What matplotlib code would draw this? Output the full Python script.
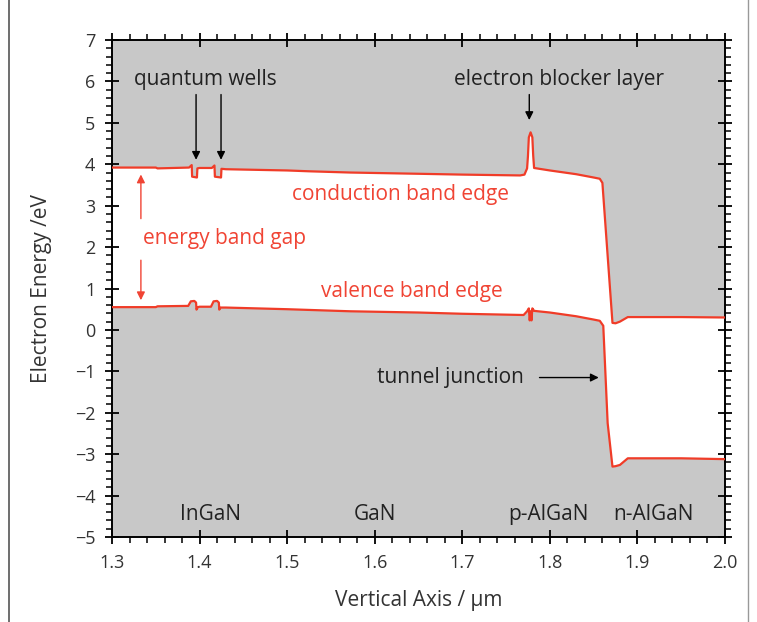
import matplotlib
matplotlib.use("Agg")
import matplotlib.pyplot as plt
import numpy as np
from matplotlib.lines import Line2D
from matplotlib.ticker import MultipleLocator

plt.rcParams['font.family'] = ['Open Sans', 'DejaVu Sans']

# Conduction band edge
cb_x = [1.300, 1.350, 1.352, 1.388, 1.391, 1.3915, 1.397, 1.3975, 1.400, 1.414,
        1.417, 1.4175, 1.4245, 1.425, 1.430, 1.500, 1.525, 1.572, 1.650, 1.700,
        1.766, 1.771, 1.774, 1.775, 1.776, 1.778, 1.780, 1.781, 1.782, 1.800,
        1.830, 1.850, 1.857, 1.860, 1.8715, 1.875, 1.880, 1.889, 1.950, 2.000]
cb_E = [3.92, 3.92, 3.90, 3.92, 3.98, 3.70, 3.68, 3.90, 3.91, 3.91,
        3.97, 3.70, 3.68, 3.89, 3.88, 3.85, 3.83, 3.80, 3.77, 3.75,
        3.73, 3.75, 3.90, 4.20, 4.65, 4.77, 4.65, 4.20, 3.91, 3.85,
        3.76, 3.68, 3.65, 3.55, 0.17, 0.16, 0.20, 0.31, 0.31, 0.30]

# Valence band edge
vb_x = [1.300, 1.350, 1.352, 1.387, 1.390, 1.394, 1.396, 1.3965, 1.398, 1.400,
        1.413, 1.416, 1.420, 1.422, 1.4225, 1.424, 1.430, 1.500, 1.572, 1.650,
        1.700, 1.770, 1.774, 1.776, 1.777, 1.778, 1.779, 1.780, 1.782, 1.800,
        1.830, 1.850, 1.857, 1.861, 1.866, 1.8715, 1.875, 1.880, 1.889, 1.950, 2.000]
vb_E = [0.55, 0.55, 0.57, 0.58, 0.69, 0.70, 0.66, 0.49, 0.55, 0.56,
        0.56, 0.69, 0.70, 0.66, 0.49, 0.54, 0.54, 0.50, 0.45, 0.42,
        0.39, 0.36, 0.45, 0.52, 0.23, 0.45, 0.23, 0.52, 0.46, 0.42,
        0.33, 0.25, 0.22, 0.10, -2.25, -3.30, -3.29, -3.26, -3.10, -3.10, -3.12]

region_labels = ["InGaN", "GaN", "p-AlGaN", "n-AlGaN"]
region_x = [1.413, 1.600, 1.798, 1.918]

red = '#f03c28'
txt_red = '#f04434'
dark = '#222222'
fs = 15

fig = plt.figure(figsize=(7.57, 6.22), dpi=100)
ax = fig.add_axes([112/757, 1-537/622, (725-112)/757, (537-40)/622])
ax.set_facecolor('#c8c8c8')

poly_x = np.concatenate([cb_x, vb_x[::-1]])
poly_y = np.concatenate([cb_E, vb_E[::-1]])
ax.fill(poly_x, poly_y, color='white', zorder=1, lw=0)
ax.plot(cb_x, cb_E, color=red, lw=1.6, zorder=3)
ax.plot(vb_x, vb_E, color=red, lw=1.6, zorder=3)

ax.set_xlim(1.3, 2.0)
ax.set_ylim(-5, 7)
ax.xaxis.set_minor_locator(MultipleLocator(0.02))
ax.yaxis.set_major_locator(MultipleLocator(1))
ax.yaxis.set_minor_locator(MultipleLocator(0.2))
xt = np.round(np.arange(1.3, 2.001, 0.1), 1)
ax.set_xticks(xt)
ax.set_xticklabels([f"{v:.1f}" for v in xt])
ax.tick_params(which='major', direction='inout', length=10, width=1.3,
               top=True, right=True, labelsize=13, labelcolor='#333333', pad=7)
ax.tick_params(which='minor', direction='out', length=4.5, width=1.1,
               top=True, right=True)
for s in ax.spines.values():
    s.set_linewidth(1.4)

ax.set_xlabel("Vertical Axis / µm", fontsize=15, color='#333333', labelpad=13)
ax.set_ylabel("Electron Energy /eV", fontsize=15, color='#333333', labelpad=16)

# annotations
ax.text(1.407, 6.05, "quantum wells", fontsize=fs, color=dark, ha='center', va='center')
for xq in [1.396, 1.4245]:
    ax.annotate("", xy=(xq, 4.04), xytext=(xq, 5.75),
                arrowprops=dict(arrowstyle='-|>', color='black', lw=1.0,
                                mutation_scale=12))
ax.text(1.811, 6.05, "electron blocker layer", fontsize=fs, color=dark,
        ha='center', va='center')
ax.annotate("", xy=(1.7765, 5.0), xytext=(1.7765, 5.75),
            arrowprops=dict(arrowstyle='-|>', color='black', lw=1.0,
                            mutation_scale=12))
ax.text(1.630, 3.27, "conduction band edge", fontsize=fs, color=txt_red,
        ha='center', va='center')
ax.text(1.6425, 0.92, "valence band edge", fontsize=fs, color=txt_red,
        ha='center', va='center')
ax.text(1.428, 2.2, "energy band gap", fontsize=fs, color=txt_red,
        ha='center', va='center')
ax.annotate("", xy=(1.333, 3.82), xytext=(1.333, 2.62),
            arrowprops=dict(arrowstyle='-|>', color=txt_red, lw=1.0,
                            mutation_scale=12))
ax.annotate("", xy=(1.333, 0.65), xytext=(1.333, 1.75),
            arrowprops=dict(arrowstyle='-|>', color=txt_red, lw=1.0,
                            mutation_scale=12))
ax.text(1.687, -1.15, "tunnel junction", fontsize=fs, color=dark,
        ha='center', va='center')
ax.annotate("", xy=(1.859, -1.15), xytext=(1.785, -1.15),
            arrowprops=dict(arrowstyle='-|>', color='black', lw=1.0,
                            mutation_scale=12))

for lab, xr in zip(region_labels, region_x):
    ax.text(xr, -4.45, lab, fontsize=fs, color=dark, ha='center', va='center')

# figure border lines
fig.add_artist(Line2D([9/757, 9/757], [0, 1], color='#555555', lw=1.2))
fig.add_artist(Line2D([748/757, 748/757], [0, 1], color='#999999', lw=1.0))

fig.savefig("out.png", dpi=100)
